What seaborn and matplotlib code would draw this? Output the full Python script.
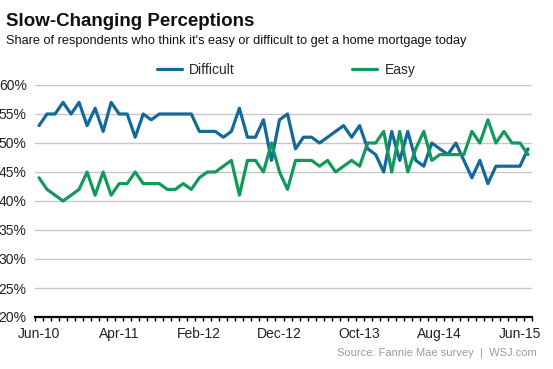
"""
plot.py
Percepción sobre la facilidad de obtener una hipoteca (Fannie Mae, 2010–2015)
"""

import numpy as np
import pandas as pd
import matplotlib
matplotlib.use('Agg')
import matplotlib.pyplot as plt
import seaborn as sns

# ──────────────────────────────────────────────────────────────────────────────
# DATOS (mensuales jun-2010 → jul-2015)
# ──────────────────────────────────────────────────────────────────────────────
MESES = pd.date_range('2010-06-01', '2015-07-01', freq='MS').strftime('%b-%y').tolist()

DIFICIL = [53, 55, 55, 57, 55, 57, 53, 56, 52, 57,
           55, 55, 51, 55, 54, 55, 55, 55, 55, 55,
           52, 52, 52, 51, 52, 56, 51, 51, 54, 47,
           54, 55, 49, 51, 51, 50, 51, 52, 53, 51,
           53, 49, 48, 45, 52, 47, 52, 47, 46, 50,
           49, 48, 50, 47, 44, 47, 43, 46, 46, 46,
           46, 49]

FACIL = [44, 42, 41, 40, 41, 42, 45, 41, 45, 41,
         43, 43, 45, 43, 43, 43, 42, 42, 43, 42,
         44, 45, 45, 46, 47, 41, 47, 47, 45, 50,
         45, 42, 47, 47, 47, 46, 47, 45, 46, 47,
         46, 50, 50, 52, 45, 52, 45, 49, 52, 47,
         48, 48, 48, 48, 52, 50, 54, 50, 52, 50,
         50, 48]

ETIQUETAS_X = ['Jun-10', 'Apr-11', 'Feb-12', 'Dec-12', 'Oct-13', 'Aug-14', 'Jun-15']
TICKS_Y = [20, 25, 30, 35, 40, 45, 50, 55, 60]

SERIES = ['Difficult', 'Easy']
COLORES = {'Difficult': '#14699b', 'Easy': '#15985c'}

# Estilo
sns.set_theme(style='white')
plt.rcParams['font.family'] = ['Liberation Sans', 'DejaVu Sans']

# Tabla en formato largo para seaborn
pos = np.arange(len(MESES))
df = pd.DataFrame({
    'pos':   np.concatenate([pos, pos]),
    'mes':   MESES + MESES,
    'valor': DIFICIL + FACIL,
    'serie': [SERIES[0]] * len(MESES) + [SERIES[1]] * len(MESES),
})

# ──────────────────────────────────────────────────────────────────────────────
# FIGURA
# ──────────────────────────────────────────────────────────────────────────────
fig = plt.figure(figsize=(5.53, 3.69), dpi=100)
ax = fig.add_axes([35 / 553, 1 - 317 / 369, 497 / 553, 232 / 369])

sns.lineplot(data=df, x='pos', y='valor', hue='serie', hue_order=SERIES,
             palette=COLORES, linewidth=2.3, ax=ax)

ax.set_xlim(-0.5, len(MESES) - 0.5)
ax.set_ylim(TICKS_Y[0], TICKS_Y[-1])
ax.set_xlabel('')
ax.set_ylabel('')

# Rejilla y ejes
ax.set_yticks(TICKS_Y)
ax.set_yticklabels([f'{v}%' for v in TICKS_Y])
ax.yaxis.grid(True, color='#c8c8c8', linewidth=1)
ax.set_axisbelow(True)
for lado in ['left', 'right', 'top']:
    ax.spines[lado].set_visible(False)
ax.spines['bottom'].set_color('black')
ax.spines['bottom'].set_linewidth(1.6)
ax.spines['bottom'].set_zorder(5)

ax.set_xticks([MESES.index(e) for e in ETIQUETAS_X])
ax.set_xticklabels(ETIQUETAS_X)
ax.set_xticks(np.arange(-0.5, len(MESES), 1), minor=True)
ax.tick_params(axis='x', which='major', length=0, pad=7, labelsize=10, colors='#222222')
ax.tick_params(axis='x', which='minor', length=3, width=1, color='black', direction='out', bottom=True)
ax.tick_params(axis='y', length=0, pad=6, labelsize=10, colors='#222222')

# Leyenda arriba
handles, labels = ax.get_legend_handles_labels()
ax.legend(handles, labels, ncol=2, frameon=False, loc='center',
          bbox_to_anchor=(286 / 553, 1 - 70 / 369), bbox_transform=fig.transFigure,
          fontsize=10, handlelength=1.8, handletextpad=0.5, columnspacing=8.5)

# Textos
fig.text(6 / 553, 1 - 26 / 369, 'Slow-Changing Perceptions',
         fontsize=13.5, fontweight='bold', color='#111111', va='baseline')
fig.text(6 / 553, 1 - 44 / 369,
         "Share of respondents who think it's easy or difficult to get a home mortgage today",
         fontsize=9.2, color='#111111', va='baseline')
fig.text(537 / 553, 1 - 353 / 369, 'Source: Fannie Mae survey  |  WSJ.com',
         fontsize=8.0, color='#9a9a9a', ha='right', va='center')

fig.savefig('out.png', dpi=100)
plt.close(fig)
